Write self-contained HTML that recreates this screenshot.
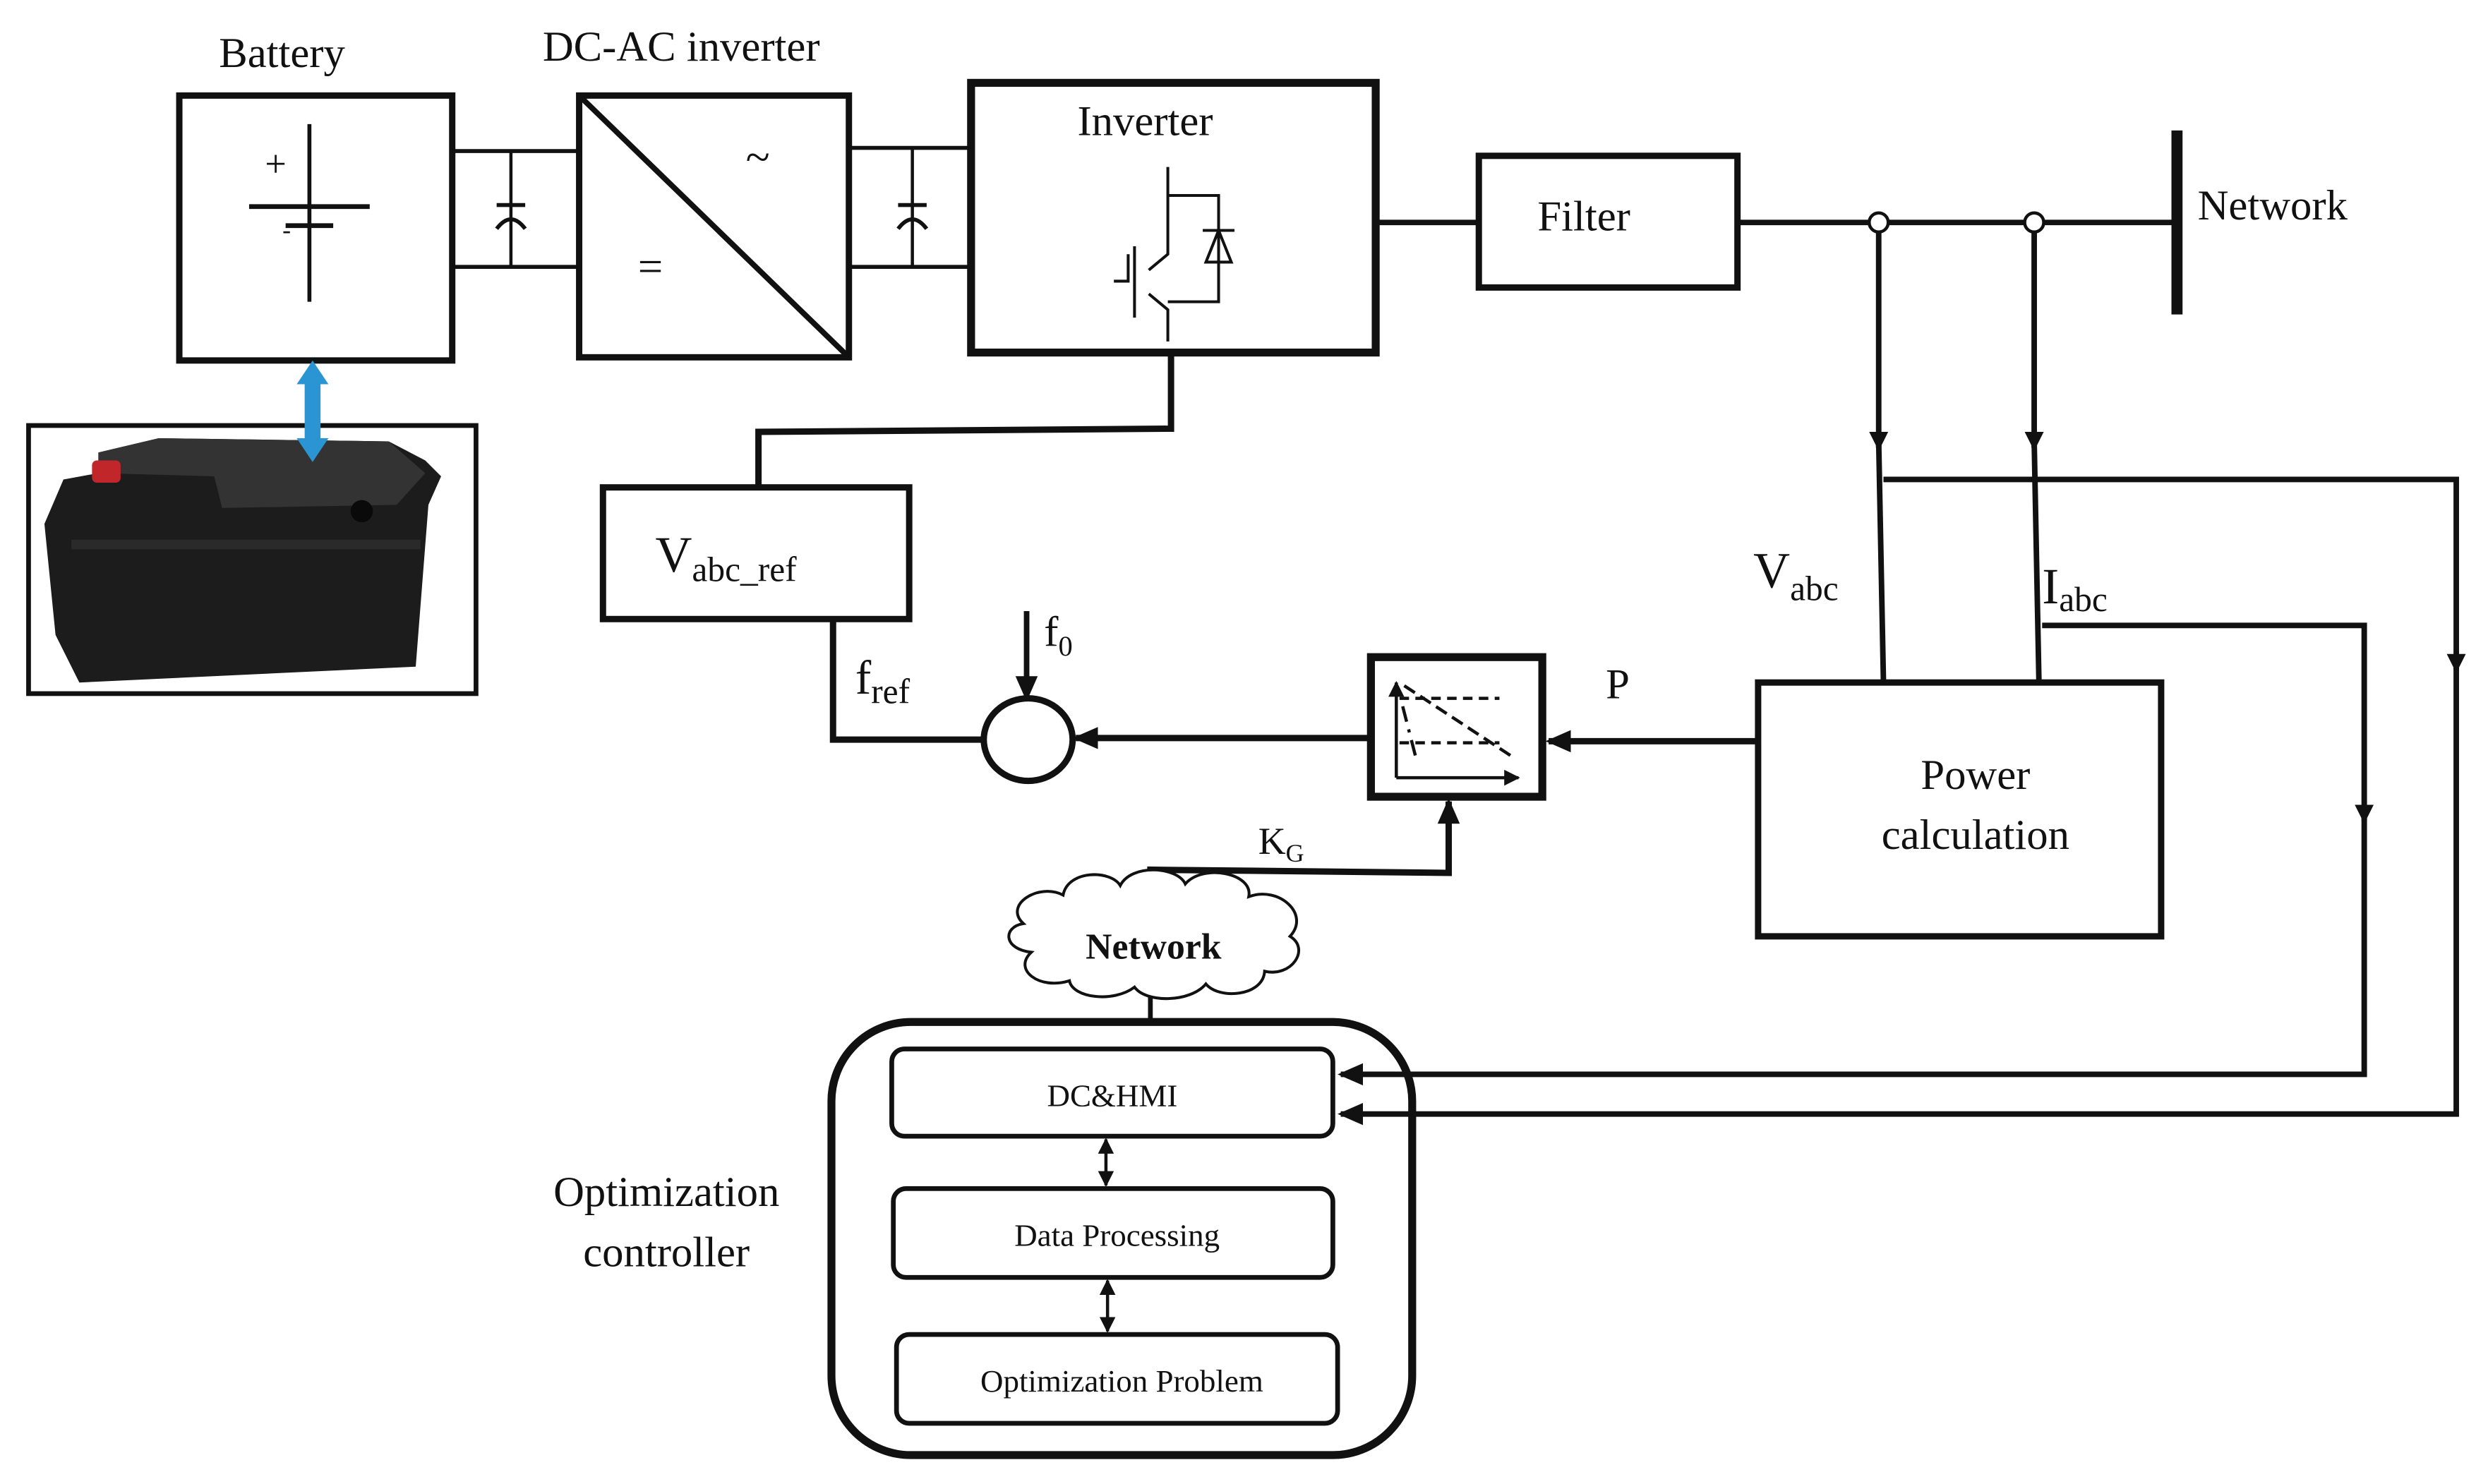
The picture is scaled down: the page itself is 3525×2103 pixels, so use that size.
<!DOCTYPE html>
<html><head><meta charset="utf-8"><style>html,body{margin:0;padding:0;background:#fff}svg{display:block}text{font-family:"Liberation Serif",serif;fill:#111}</style></head><body>
<svg width="3525" height="2103" viewBox="0 0 1568 935" xmlns="http://www.w3.org/2000/svg">
<defs>
<marker id="a" markerWidth="12" markerHeight="14" refX="10" refY="6" orient="auto" markerUnits="userSpaceOnUse" viewBox="0 0 12 12"><path d="M0,0 L12,6 L0,12Z" fill="#111"/></marker>
<marker id="b" markerWidth="16" markerHeight="16" refX="14" refY="8" orient="auto" markerUnits="userSpaceOnUse" viewBox="0 0 16 16"><path d="M0,1 L16,8 L0,15Z" fill="#111"/></marker>
<marker id="s" markerWidth="10" markerHeight="10" refX="9" refY="5" orient="auto-start-reverse" markerUnits="userSpaceOnUse" viewBox="0 0 10 10"><path d="M0,0 L10,5 L0,10Z" fill="#111"/></marker>
</defs>
<g fill="none" stroke="#111">
<rect x="113" y="60" width="172" height="167" stroke-width="4"/>
<line x1="195" y1="78" x2="195" y2="190" stroke-width="2.5"/>
<line x1="157" y1="130" x2="233" y2="130" stroke-width="3"/>
<line x1="180" y1="142" x2="210" y2="142" stroke-width="3"/>
<line x1="285" y1="95" x2="365" y2="95" stroke-width="2.5"/>
<line x1="285" y1="168" x2="365" y2="168" stroke-width="2.5"/>
<line x1="322" y1="95" x2="322" y2="168" stroke-width="2"/>
<line x1="313" y1="129" x2="331" y2="129" stroke-width="2.5"/>
<path d="M313,144 Q322,132 331,144" stroke-width="2.5"/>
<rect x="365" y="60" width="170" height="165" stroke-width="4"/>
<line x1="365" y1="60" x2="535" y2="225" stroke-width="3.5"/>
<line x1="535" y1="93" x2="612" y2="93" stroke-width="2.5"/>
<line x1="535" y1="168" x2="612" y2="168" stroke-width="2.5"/>
<line x1="575" y1="93" x2="575" y2="168" stroke-width="2"/>
<line x1="566" y1="129" x2="584" y2="129" stroke-width="2.5"/>
<path d="M566,144 Q575,132 584,144" stroke-width="2.5"/>
<rect x="612" y="52" width="255" height="170" stroke-width="5"/>
<g stroke-width="1.8">
<line x1="736" y1="105" x2="736" y2="135"/>
<polyline points="736,135 736,160 724,170"/>
<line x1="715" y1="155" x2="715" y2="200"/>
<polyline points="711,160 711,177 702,177"/>
<polyline points="724,185 736,195 736,215"/>
<polyline points="736,123 768,123 768,190 736,190"/>
<line x1="758" y1="145" x2="778" y2="145"/>
<path d="M768,145 L760,165 L776,165Z"/>
</g>
<line x1="867" y1="140" x2="932" y2="140" stroke-width="3.5"/>
<rect x="932" y="98" width="163" height="83" stroke-width="4"/>
<line x1="1095" y1="140" x2="1370" y2="140" stroke-width="3.5"/>
<line x1="1372" y1="82" x2="1372" y2="198" stroke-width="7"/>
<circle cx="1184" cy="140" r="6" stroke-width="2" fill="#fff"/>
<circle cx="1282" cy="140" r="6" stroke-width="2" fill="#fff"/>
<line x1="1184" y1="146" x2="1184" y2="282" stroke-width="3.5" marker-end="url(#a)"/>
<line x1="1184" y1="278" x2="1187" y2="430" stroke-width="3.5"/>
<line x1="1282" y1="146" x2="1282" y2="282" stroke-width="3.5" marker-end="url(#a)"/>
<line x1="1282" y1="278" x2="1285" y2="430" stroke-width="3.5"/>
<polyline points="1187,302 1548,302 1548,422" stroke-width="3.5" marker-end="url(#a)"/>
<polyline points="1548,415 1548,702 845,702" stroke-width="3.5" marker-end="url(#b)"/>
<polyline points="1287,394 1490,394 1490,517" stroke-width="3.5" marker-end="url(#a)"/>
<polyline points="1490,510 1490,677 845,677" stroke-width="3.5" marker-end="url(#b)"/>
<rect x="1108" y="430" width="254" height="160" stroke-width="4"/>
<line x1="1108" y1="467" x2="976" y2="467" stroke-width="4" marker-end="url(#b)"/>
<rect x="864" y="414" width="108" height="88" stroke-width="5"/>
<g stroke-width="2">
<line x1="880" y1="490" x2="880" y2="430" marker-end="url(#s)"/>
<line x1="880" y1="490" x2="957" y2="490" marker-end="url(#s)"/>
<line x1="882" y1="440" x2="945" y2="440" stroke-dasharray="6,4"/>
<line x1="882" y1="468" x2="945" y2="468" stroke-dasharray="6,4"/>
<line x1="885" y1="432" x2="955" y2="478" stroke-dasharray="8,4"/>
<line x1="884" y1="445" x2="893" y2="480" stroke-dasharray="10,5,2,5"/>
</g>
<line x1="864" y1="465" x2="678" y2="465" stroke-width="4" marker-end="url(#b)"/>
<ellipse cx="648" cy="466" rx="28" ry="26" stroke-width="4"/>
<line x1="647" y1="385" x2="647" y2="440" stroke-width="3.5" marker-end="url(#b)"/>
<polyline points="620,466 525,466 525,390" stroke-width="4"/>
<rect x="380" y="307" width="193" height="83" stroke-width="4"/>
<polyline points="738,222 738,270 478,272 478,307" stroke-width="4"/>
<polyline points="725,576 725,548 913,550 913,505" stroke-width="4" marker-end="url(#b)"/>
<path d="M645,582 C632,570 655,556 670,564 C673,548 700,548 706,558 C713,544 742,546 747,557 C758,544 790,550 787,565 C806,558 826,576 813,590 C826,598 814,616 797,612 C796,628 768,630 760,620 C750,632 722,632 715,622 C702,632 676,629 674,618 C655,624 638,611 650,600 C632,598 632,584 645,582Z" stroke-width="1.8" fill="#fff"/>
<line x1="725" y1="628" x2="725" y2="644" stroke-width="3"/>
<rect x="524" y="644" width="366" height="273" rx="50" stroke-width="5"/>
<rect x="562" y="661" width="278" height="55" rx="8" stroke-width="3"/>
<rect x="563" y="749" width="277" height="56" rx="8" stroke-width="3"/>
<rect x="565" y="841" width="278" height="56" rx="8" stroke-width="3"/>
<line x1="697" y1="718" x2="697" y2="747" stroke-width="2" marker-start="url(#s)" marker-end="url(#s)"/>
<line x1="698" y1="807" x2="698" y2="839" stroke-width="2" marker-start="url(#s)" marker-end="url(#s)"/>
<rect x="18" y="268" width="282" height="169" stroke-width="3"/>
</g>
<path d="M28,330 L40,302 L62,298 L62,285 L100,276 L245,278 L268,290 L278,300 L270,318 L262,420 L50,430 L35,400Z" fill="#1c1c1c"/>
<path d="M62,285 L100,276 L245,278 L268,298 L250,318 L140,320 L135,300 L62,298Z" fill="#333"/>
<rect x="58" y="290" width="18" height="14" rx="3" fill="#c0262a"/>
<circle cx="228" cy="322" r="7" fill="#0a0a0a"/>
<rect x="45" y="340" width="220" height="6" fill="#2a2a2a"/>
<rect x="192" y="240" width="10" height="38" fill="#2b95d4"/>
<path d="M187,242 L197,227 L207,242Z M187,276 L197,291 L207,276Z" fill="#2b95d4"/>
<g font-size="27">
<text x="138" y="42">Battery</text>
<text x="342" y="38">DC-AC inverter</text>
<text x="679" y="85">Inverter</text>
<text x="969" y="145">Filter</text>
<text x="1385" y="138">Network</text>
<text x="1245" y="497" text-anchor="middle">Power</text>
<text x="1245" y="535" text-anchor="middle">calculation</text>
<text x="1012" y="440">P</text>
<text x="420" y="760" text-anchor="middle">Optimization</text>
<text x="420" y="798" text-anchor="middle">controller</text>
<text x="167" y="111" font-size="24">+</text>
<text x="178" y="150" font-size="16">-</text>
<text x="470" y="108" font-size="28">~</text>
<text x="402" y="177" font-size="28">=</text>
<text x="413" y="360" font-size="32">V<tspan font-size="22" dy="6">abc_ref</tspan></text>
<text x="1105" y="370" font-size="32">V<tspan font-size="22" dy="8">abc</tspan></text>
<text x="1287" y="380" font-size="32">I<tspan font-size="22" dy="5">abc</tspan></text>
<text x="658" y="407" font-size="27">f<tspan font-size="18" dy="6">0</tspan></text>
<text x="539" y="437" font-size="30">f<tspan font-size="22" dy="6">ref</tspan></text>
<text x="793" y="538" font-size="24">K<tspan font-size="16" dy="5">G</tspan></text>
<text x="727" y="604" font-size="23" font-weight="bold" text-anchor="middle">Network</text>
<text x="701" y="697" font-size="20" text-anchor="middle">DC&amp;HMI</text>
<text x="704" y="785" font-size="20" text-anchor="middle">Data Processing</text>
<text x="707" y="877" font-size="20" text-anchor="middle">Optimization Problem</text>
</g>
</svg>
</body></html>
